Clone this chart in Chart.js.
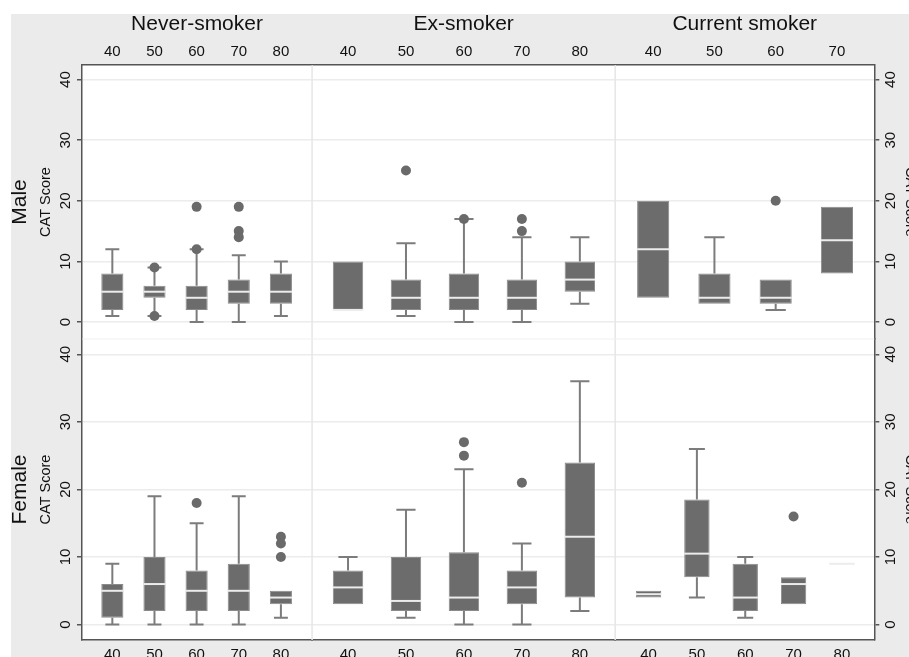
<!DOCTYPE html>
<html>
<head>
<meta charset="utf-8">
<script src="https://cdn.jsdelivr.net/npm/chart.js@4"></script>
<style>
  html, body { margin: 0; padding: 0; background: #fff; overflow: hidden; }
  #bg { position: absolute; left: 11px; top: 14px; width: 1000px; height: 1000px; background: #ebebeb; }
  #chart { position: absolute; left: 0; top: 0; }
</style>
</head>
<body>
<div id="bg"></div>
<canvas id="chart" width="919" height="670"></canvas>
<script>
// ---------------------
// DATA  (each box: [low whisker, Q1, median, Q3, high whisker], null = no whisker)
// ---------------------
const ages = [40, 50, 60, 70, 80];
const agesMaleCurrent = [40, 50, 60, 70];
const scoreTicks = [0, 10, 20, 30, 40];

const maleNever = [[1, 2, 5, 8, 12], [1, 4, 5, 6, 9], [0, 2, 4, 6, 12], [0, 3, 5, 7, 11], [1, 3, 5, 8, 10]];
const maleNeverOut = [[50, 9], [50, 1], [60, 19], [60, 12], [70, 19], [70, 15], [70, 14]];

const maleEx = [[null, 2, 2, 10, null], [1, 2, 4, 7, 13], [0, 2, 4, 8, 17], [0, 2, 4, 7, 14], [3, 5, 7, 10, 14]];
const maleExOut = [[50, 25], [60, 17], [70, 17], [70, 15]];

const maleCurrent = [[null, 4, 12, 20, null], [null, 3, 4, 8, 14], [2, 3, 4, 7, null], [null, 8, 13.5, 19, null]];
const maleCurrentOut = [[60, 20]];

const femaleNever = [[0, 1, 5, 6, 9], [0, 2, 6, 10, 19], [0, 2, 5, 8, 15], [0, 2, 5, 9, 19], [1, 3, 4, 5, null]];
const femaleNeverOut = [[60, 18], [80, 13], [80, 12], [80, 10]];

const femaleEx = [[null, 3, 5.5, 8, 10], [1, 2, 3.5, 10, 17], [0, 2, 4, 10.7, 23], [0, 3, 5.5, 8, 12], [2, 4, 13, 24, 36]];
const femaleExOut = [[60, 27], [60, 25], [70, 21]];

const femaleCurrent = [[null, 4, 4.5, 5, null], [4, 7, 10.5, 18.5, 26], [1, 2, 4, 9, 10], [null, 3, 6, 7, null], [null, 9, 9, 9, null]];
const femaleCurrentOut = [[70, 16]];

// ---------------------
// STYLE
// ---------------------
const FONT = '"Liberation Sans", Arial, Helvetica, sans-serif';
const BOX = '#6c6c6c';
const BOX_EDGE = '#8a8a8a';
const WHISKER = '#7c7c7c';
const MEDIAN = '#ececec';
const DOT = '#6a6a6a';
const AXIS = '#555';
const GRID = '#ececec';
const TEXT = '#111';

const tickFont = { family: FONT, size: 15 };
const panelTitleFont = { family: FONT, size: 21 };
const scoreTitleFont = { family: FONT, size: 14.5 };
const rowTitleFont = { family: FONT, size: 21 };

const panels = [
  { x: 'xMN', y: 'yM', ages: ages, boxes: maleNever, out: maleNeverOut },
  { x: 'xME', y: 'yM', ages: ages, boxes: maleEx, out: maleExOut },
  { x: 'xMC', y: 'yM', ages: agesMaleCurrent, boxes: maleCurrent, out: maleCurrentOut },
  { x: 'xFN', y: 'yF', ages: ages, boxes: femaleNever, out: femaleNeverOut },
  { x: 'xFE', y: 'yF', ages: ages, boxes: femaleEx, out: femaleExOut },
  { x: 'xFC', y: 'yF', ages: ages, boxes: femaleCurrent, out: femaleCurrentOut }
];

const datasets = [];
panels.forEach(p => {
  datasets.push({
    type: 'bar',
    data: p.ages.map((a, i) => ({ x: a, y: [p.boxes[i][1], p.boxes[i][3]] })),
    stats: p.boxes,
    xAxisID: p.x,
    yAxisID: p.y,
    grouped: false,
    backgroundColor: BOX,
    borderColor: BOX_EDGE,
    borderWidth: 1,
    borderSkipped: false,
    barPercentage: 0.525,
    categoryPercentage: 1
  });
  datasets.push({
    type: 'line',
    showLine: false,
    data: p.out.map(([a, s]) => ({ x: a, y: s })),
    xAxisID: p.x,
    yAxisID: p.y,
    pointRadius: 5,
    pointHoverRadius: 5,
    pointBackgroundColor: DOT,
    pointBorderWidth: 0
  });
});

// ---------------------
// AXES
// ---------------------
function xAxis(position, tickValues, min, max, stackWeight, weight, title) {
  return {
    type: 'linear', position, stack: position, stackWeight, weight, min, max,
    offset: false,
    grid: { display: false, drawTicks: false, offset: false },
    border: { display: true, color: AXIS, width: 1.5 },
    ticks: { font: tickFont, color: TEXT, padding: position === 'top' ? 4.5 : 6, minRotation: 0, maxRotation: 0, autoSkip: false },
    afterBuildTicks: s => { s.ticks = tickValues.map(v => ({ value: v })); },
    title: title
      ? { display: true, text: title, font: panelTitleFont, color: TEXT, padding: { top: 0, bottom: 1.4 } }
      : { display: false }
  };
}

function yAxis(position, stack, min, max, stackWeight, weight) {
  const left = position === 'left';
  return {
    type: 'linear', position, stack, stackWeight, weight, min, max,
    grid: {
      display: true, drawOnChartArea: left, color: GRID, lineWidth: 1.5,
      drawTicks: true, tickLength: 5, tickColor: AXIS, tickWidth: 1.5
    },
    border: { display: true, color: AXIS, width: 1.5 },
    ticks: { font: tickFont, color: TEXT, padding: 3, minRotation: 90, maxRotation: 90, crossAlign: 'center' },
    afterBuildTicks: s => { s.ticks = scoreTicks.map(v => ({ value: v })); },
    title: { display: true, text: 'CAT Score', font: scoreTitleFont, color: TEXT, padding: { top: 0, bottom: -1.7 } }
  };
}

function rowLabel(text, stackWeight, weight) {
  return {
    type: 'linear', position: 'left', stack: 'leftOuter', stackWeight, weight, min: 0, max: 1,
    grid: { display: false, drawTicks: false },
    border: { display: false },
    ticks: { display: false },
    title: { display: true, text, font: rowTitleFont, color: TEXT, padding: { top: 0, bottom: 4.2 } }
  };
}

// ---------------------
// BOX PLOT PIECES (whiskers, medians, panel dividers)
// ---------------------
const boxPlot = {
  id: 'boxPlot',
  beforeDraw(chart) {
    const { ctx, chartArea: a } = chart;
    ctx.save();
    ctx.fillStyle = '#fff';
    ctx.fillRect(a.left, a.top, a.width, a.height);
    ctx.restore();
  },
  beforeDatasetsDraw(chart) {
    const { ctx, chartArea: a, scales } = chart;
    ctx.save();
    ctx.strokeStyle = '#e6e6e6';
    ctx.lineWidth = 1.5;
    [scales.xME.left, scales.xMC.left].forEach(x => {
      ctx.beginPath();
      ctx.moveTo(x, a.top);
      ctx.lineTo(x, a.bottom);
      ctx.stroke();
    });
    ctx.strokeStyle = '#f0f0f0';
    ctx.lineWidth = 1;
    ctx.beginPath();
    ctx.moveTo(a.left, scales.yM.bottom);
    ctx.lineTo(a.right, scales.yM.bottom);
    ctx.stroke();

    ctx.strokeStyle = WHISKER;
    ctx.lineWidth = 2;
    chart.data.datasets.forEach((ds, i) => {
      if (!ds.stats) return;
      const ys = scales[ds.yAxisID];
      chart.getDatasetMeta(i).data.forEach((bar, j) => {
        const [lo, q1, , q3, hi] = ds.stats[j];
        const cap = bar.width * 0.63;
        [[lo, q1], [hi, q3]].forEach(([end, edge]) => {
          if (end === null) return;
          const y0 = ys.getPixelForValue(edge);
          const y1 = ys.getPixelForValue(end);
          ctx.beginPath();
          ctx.moveTo(bar.x, y0);
          ctx.lineTo(bar.x, y1);
          ctx.moveTo(bar.x - cap / 2, y1);
          ctx.lineTo(bar.x + cap / 2, y1);
          ctx.stroke();
        });
      });
    });
    ctx.restore();
  },
  afterDatasetsDraw(chart) {
    const { ctx, scales } = chart;
    ctx.save();
    ctx.strokeStyle = MEDIAN;
    ctx.lineWidth = 2;
    chart.data.datasets.forEach((ds, i) => {
      if (!ds.stats) return;
      const ys = scales[ds.yAxisID];
      chart.getDatasetMeta(i).data.forEach((bar, j) => {
        const y = ys.getPixelForValue(ds.stats[j][2]);
        ctx.beginPath();
        ctx.moveTo(bar.x - bar.width / 2, y);
        ctx.lineTo(bar.x + bar.width / 2, y);
        ctx.stroke();
      });
    });
    ctx.restore();
  }
};

// ---------------------
// CHART
// ---------------------
new Chart(document.getElementById('chart'), {
  type: 'bar',
  data: { datasets },
  options: {
    responsive: false,
    animation: false,
    devicePixelRatio: 1,
    events: [],
    layout: { padding: { left: 7.9, top: 11.4, right: 0, bottom: 0 } },
    plugins: { legend: { display: false }, tooltip: { enabled: false } },
    scales: {
      xMN: xAxis('top', ages, 32.8, 87.4, 230, 0.3, 'Never-smoker'),
      xME: xAxis('top', ages, 33.8, 86.1, 303, 0.2, 'Ex-smoker'),
      xMC: xAxis('top', agesMaleCurrent, 33.8, 76.1, 259, 0.1, 'Current smoker'),
      xFN: xAxis('bottom', ages, 32.8, 87.4, 230, 0.1),
      xFE: xAxis('bottom', ages, 33.8, 86.1, 303, 0.2),
      xFC: xAxis('bottom', ages, 33.1, 86.7, 259, 0.3),
      yMlab: rowLabel('Male', 274, 2),
      yFlab: rowLabel('Female', 301, 1.9),
      yM: yAxis('left', 'left', -2.8, 42.4, 274, 0.6),
      yF: yAxis('left', 'left', -2.28, 42.26, 301, 0.5),
      yMR: yAxis('right', 'right', -2.8, 42.4, 274, 0),
      yFR: yAxis('right', 'right', -2.28, 42.26, 301, 0.1)
    }
  },
  plugins: [boxPlot]
});
</script>
</body>
</html>
